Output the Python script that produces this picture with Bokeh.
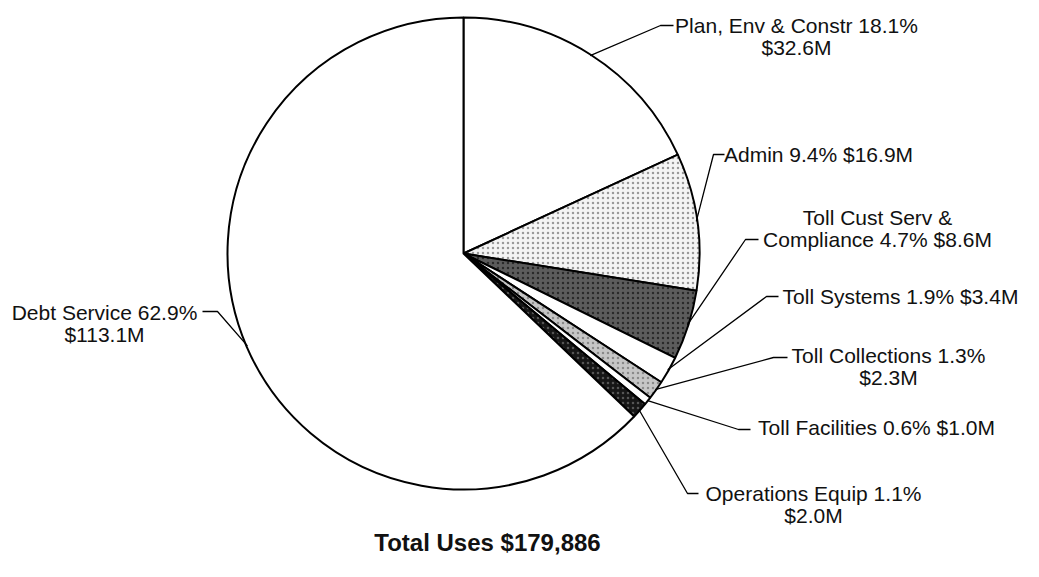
import numpy as np
from bokeh.plotting import figure
from bokeh.models import Range1d, ColumnDataSource
from bokeh.core.properties import value
from bokeh.embed import file_html
from bokeh.resources import INLINE

# ---------------- data ----------------
categories = ["Plan, Env & Constr", "Admin", "Toll Cust Serv &\nCompliance", "Toll Systems",
              "Toll Collections", "Toll Facilities", "Operations Equip", "Debt Service"]
percents = [18.1, 9.4, 4.7, 1.9, 1.3, 0.6, 1.1, 62.9]
values_m = [32.6, 16.9, 8.6, 3.4, 2.3, 1.0, 2.0, 113.1]
total_uses = 179886
break_after_pct = [True, False, False, False, True, False, True, True]

# ---------------- style / layout ----------------
W, H = 1023, 561
def py(y):  # picture pixel y -> data y
    return H - y

CX, CY, R = 463, py(253), 236
fills = ["#ffffff", "#f4f4f4", "#5c5c5c", "#ffffff", "#c6c6c6", "#ffffff", "#161616", "#ffffff"]
hatches = [" ", "dot", "dot", " ", "dot", " ", "dot", " "]
hatch_colors = ["#ffffff", "#9a9a9a", "#2a2a2a", "#ffffff", "#8a8a8a", "#ffffff", "#555555", "#ffffff"]

# label anchor (center x, first baseline y in picture px), line spacing
label_pos = [(796, 25), (818, 154), (877, 217), (900, 296), (888, 355), (876, 427), (813, 493), (104, 312)]
line_gap = 22
# leader elbow and end (picture px)
elbows = [(660, 25), (713, 154), (745, 239), (766, 296), (773, 357), (738, 429), (687, 493), (217, 311)]
ends = [(673, 25), (724, 154), (758, 239), (778, 296), (787, 357), (750, 429), (698, 493), (202, 311)]

FONT = value("Liberation Sans")

p = figure(width=W, height=H, output_backend="svg", toolbar_location=None,
           x_range=Range1d(0, W), y_range=Range1d(0, H),
           x_axis_location=None, y_axis_location=None, min_border=0,
           outline_line_color=None, background_fill_color="white")
p.grid.visible = False

vals = np.array(values_m)
frac = vals / vals.sum()
cum_end = np.cumsum(frac)
cum_start = cum_end - frac
start_ang = np.pi / 2 - 2 * np.pi * cum_start
end_ang = np.pi / 2 - 2 * np.pi * cum_end

src = ColumnDataSource(dict(start=start_ang, end=end_ang, fill=fills, hatch=hatches, hcol=hatch_colors))
p.wedge(x=CX, y=CY, radius=R, start_angle="start", end_angle="end", direction="clock",
        source=src, fill_color="fill", hatch_pattern="hatch", hatch_color="hcol",
        hatch_scale=5, hatch_weight=1, line_color="black", line_width=2)

# leader lines
mid = (cum_start + cum_end) / 2
xs, ys = [], []
for i in range(len(categories)):
    a = 2 * np.pi * mid[i]
    sx = CX + (R - 1) * np.sin(a)
    sy = CY + (R - 1) * np.cos(a)
    xs.append([sx, elbows[i][0], ends[i][0]])
    ys.append([sy, py(elbows[i][1]), py(ends[i][1])])
p.multi_line(xs=xs, ys=ys, line_color="black", line_width=1.3)

# labels
tx, ty, tt = [], [], []
for i, cat in enumerate(categories):
    first = f"{cat} {percents[i]:.1f}%"
    money = f"${values_m[i]:.1f}M"
    text = first + ("\n" if break_after_pct[i] else " ") + money
    for j, line in enumerate(text.split("\n")):
        tx.append(label_pos[i][0])
        ty.append(py(label_pos[i][1] + j * line_gap))
        tt.append(line)
p.text(x=tx, y=ty, text=tt, text_align="center", text_baseline="alphabetic",
       text_font=FONT, text_font_size="21px", text_color="#111111")

# total title
p.text(x=[487], y=[py(542)], text=[f"Total Uses ${total_uses:,}"], text_align="center",
       text_baseline="alphabetic", text_font=FONT, text_font_size="24px",
       text_font_style="bold", text_color="#111111")

open("out.html", "w").write(file_html(p, INLINE))
